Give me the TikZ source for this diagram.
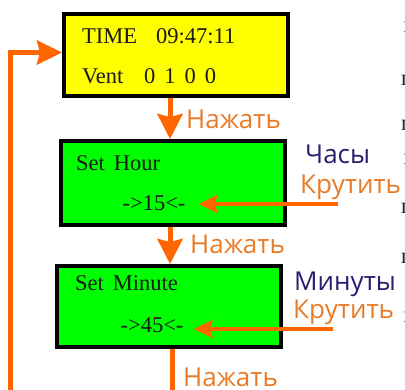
\documentclass[tikz,border=0pt]{standalone}
\usepackage{fontspec}
\setmainfont{Liberation Serif}
\newfontfamily\labelfont{Open Sans}
\usetikzlibrary{arrows.meta}

\definecolor{arrowor}{RGB}{255,102,0}
\definecolor{labelor}{RGB}{233,122,38}
\definecolor{labelpu}{RGB}{48,28,110}
\definecolor{lcdyellow}{RGB}{255,255,0}
\definecolor{lcdgreen}{RGB}{0,255,0}

\begin{document}
\begin{tikzpicture}[x=1pt,y=-1pt,
  lcd/.style={draw=black, line width=4pt, minimum width=224pt, inner sep=0pt},
  lcdtext/.style={font=\fontsize{22.5}{22.5}\selectfont, text=black!90,
    anchor=base west, inner sep=0pt},
  valtext/.style={font=\fontsize{22.5}{22.5}\selectfont, text=black!90,
    anchor=base, inner sep=0pt},
  presspath/.style={draw=arrowor, line width=5pt,
    -{Stealth[length=25pt,width=25pt,inset=3pt]}},
  turnpath/.style={draw=arrowor, line width=3.5pt,
    -{Stealth[length=19pt,width=18pt,inset=3pt]}},
  looppath/.style={draw=arrowor, line width=5pt,
    -{Stealth[length=25pt,width=24pt,inset=3pt]}},
  presslabel/.style={font=\labelfont\fontsize{26}{26}\selectfont, text=labelor,
    anchor=base west, inner sep=0pt},
  namelabel/.style={font=\labelfont\fontsize{26}{26}\selectfont, text=labelpu,
    anchor=base west, inner sep=0pt},
  edgetext/.style={font=\fontsize{22.5}{22.5}\selectfont, text=black!85,
    anchor=base west, inner sep=0pt}]

\useasboundingbox (0,0) rectangle (405,389);

% display screens
\node[lcd, fill=lcdyellow, minimum height=82pt] (yel) at (176,55) {};
\node[lcd, fill=lcdgreen, minimum height=84pt] (g1) at (173,183) {};
\node[lcd, fill=lcdgreen, minimum height=81pt] (g2) at (169,306.5) {};

% screen contents
\node[lcdtext] (timeword) at (82,43) {TIME};
\node[lcdtext] (timeval) at (156,43) {09:47:11};
\node[lcdtext] (ventword) at (82,83) {Vent};
\node[lcdtext] (ventval) at (144,83) {0\hspace{9pt}1\hspace{9pt}0\hspace{9pt}0};

\node[lcdtext] (hourword) at (76,170) {Set\hspace{9pt}Hour};
\node[valtext] (v1) at (154,210) {->15<-};

\node[lcdtext] (minword) at (75,290) {Set\hspace{9pt}Minute};
\node[valtext] (v2) at (152,332) {->45<-};

% button presses
\draw[presspath] ([xshift=-6pt]yel.south) -- ([xshift=-3pt]g1.north);
\draw[presspath] ([xshift=-3pt]g1.south) -- ([xshift=1pt]g2.north);
\coordinate (e3) at (172,395);
\draw[draw=arrowor, line width=5pt] ([xshift=3pt]g2.south) -- (e3);

\node[presslabel] (p1) at (186,128) {Нажать};
\node[presslabel] (p2) at (190,253) {Нажать};
\node[presslabel] (p3) at (183,386) {Нажать};

% knob turns
\coordinate (k1) at (338,204);
\coordinate (k2) at (333,329);
\draw[turnpath] (k1) -- ([xshift=13pt]v1.east |- k1);
\draw[turnpath] (k2) -- ([xshift=10pt]v2.east |- k2);

\node[namelabel] (n1) at (305,163) {Часы};
\node[presslabel] (r1) at (300,193) {Крутить};
\node[namelabel] (n2) at (294,290) {Минуты};
\node[presslabel] (r2) at (293,318) {Крутить};

% return to the clock screen
\coordinate (fb) at (10,395);
\draw[looppath] (fb) |- ([yshift=2.5pt]yel.west);

% neighbouring text column, cut off by the page edge
\node[edgetext] (c1) at (403.5,32) {п};
\node[edgetext] (c2) at (401,85) {п};
\node[edgetext] (c3) at (401,130) {п};
\node[edgetext] (c4) at (403.5,164) {п};
\node[edgetext] (c5) at (401,213) {п};
\node[edgetext] (c6) at (401,263) {п};
\node[edgetext] (c7) at (403.5,322) {п};
\end{tikzpicture}
\end{document}
